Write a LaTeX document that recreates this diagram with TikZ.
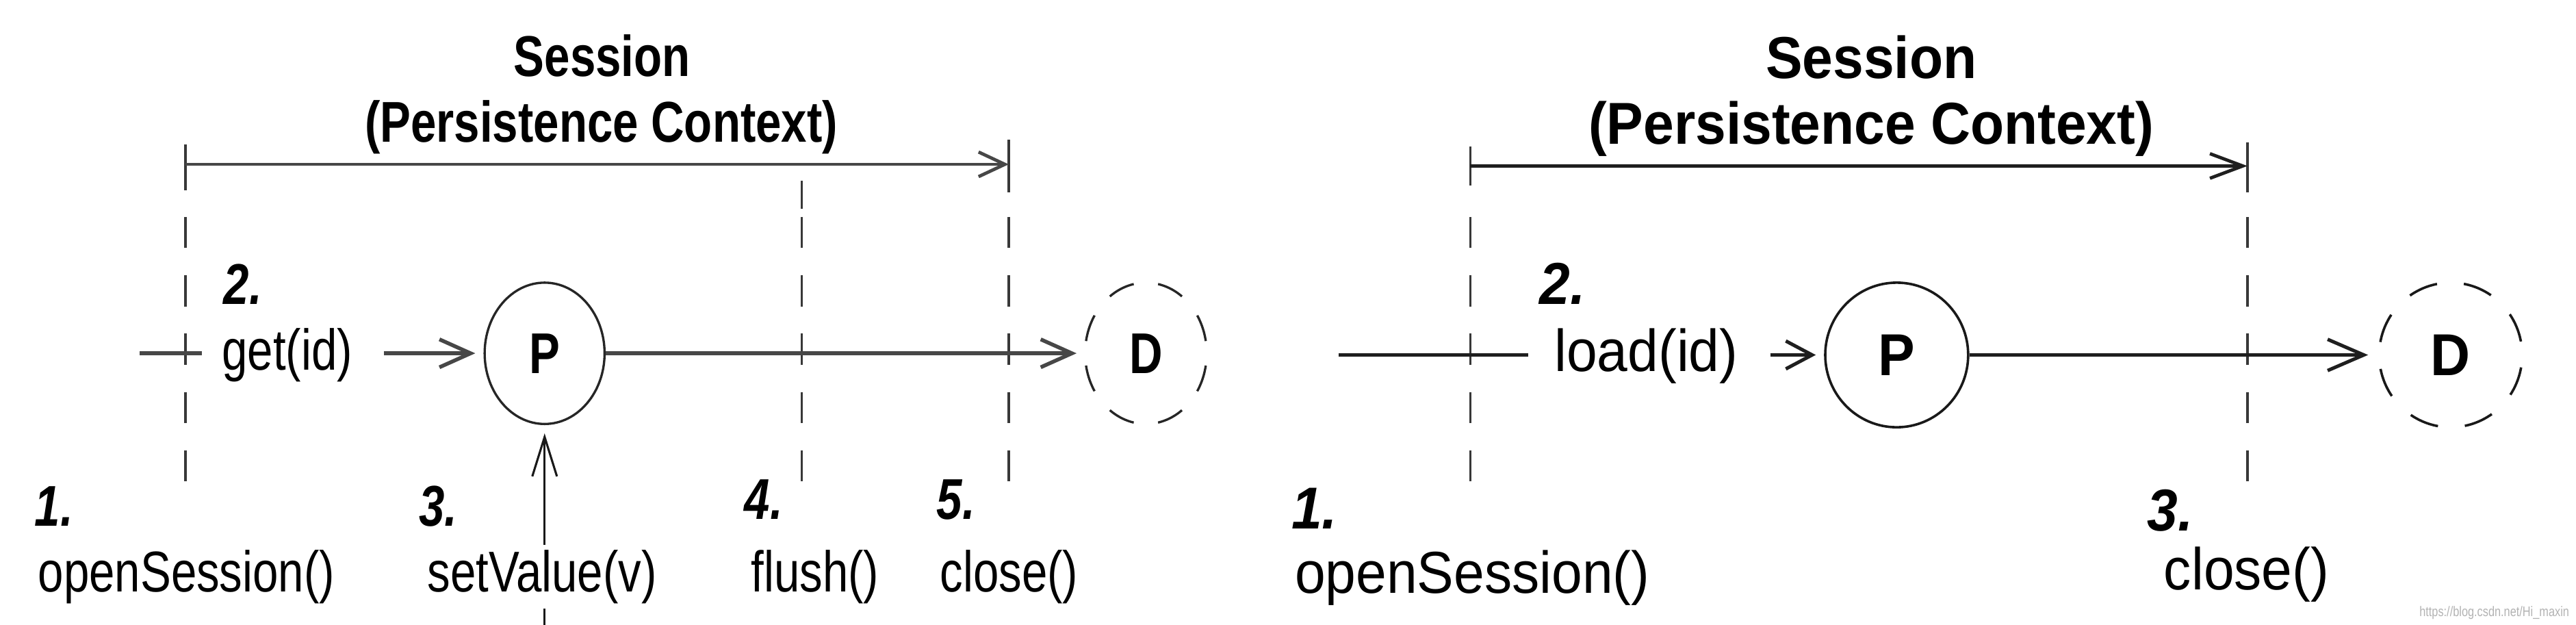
\documentclass[tikz,border=0pt]{standalone}
\usepackage{fontspec}
\setmainfont{Liberation Sans}
\newfontfamily\lfont{Liberation Sans}[FakeStretch=0.8]
\newfontfamily\rfont{Liberation Sans}[FakeStretch=0.93]
\usetikzlibrary{arrows.meta,shapes.geometric}
\begin{document}
\begin{tikzpicture}[x=1pt,y=-1pt,
  ltxt/.style={font=\lfont\fontsize{35}{40}\selectfont, inner sep=0pt, anchor=base west},
  lnum/.style={font=\lfont\fontsize{35}{40}\selectfont\bfseries\itshape, inner sep=0pt, anchor=base west},
  ltitle/.style={font=\lfont\fontsize{35}{40}\selectfont\bfseries, inner sep=0pt, anchor=base},
  rtxt/.style={font=\rfont\fontsize{36}{41}\selectfont, inner sep=0pt, anchor=base west},
  rnum/.style={font=\rfont\fontsize{36}{41}\selectfont\bfseries\itshape, inner sep=0pt, anchor=base west},
  rtitle/.style={font=\rfont\fontsize{36}{41}\selectfont\bfseries, inner sep=0pt, anchor=base},
  lline/.style={draw=black!72, line width=2.3pt},
  rline/.style={draw=black!88, line width=2.1pt},
  ltip/.style={-{Straight Barb[length=19pt,width=17pt]}},
  rtip/.style={-{Straight Barb[length=22pt,width=19pt]}},
  ltoptip/.style={-{Straight Barb[length=16pt,width=15pt]}},
  rtoptip/.style={-{Straight Barb[length=20pt,width=15pt]}},
  vdash/.style={draw=black!78, line width=1.6pt, dash pattern=on 19pt off 16.5pt},
  vtick/.style={draw=black!78, line width=1.6pt},
  lobj/.style={ellipse, draw=black!85, line width=1.4pt, minimum width=73pt, minimum height=86pt, inner sep=0pt, font=\lfont\fontsize{35}{40}\selectfont\bfseries},
  robj/.style={ellipse, draw=black!90, line width=1.5pt, minimum width=87pt, minimum height=88pt, inner sep=0pt, font=\rfont\fontsize{36}{41}\selectfont\bfseries},
  ldashobj/.style={lobj, minimum width=74pt, dash pattern=on 16.5pt off 14.96pt, dash phase=23.98pt},
  rdashobj/.style={robj, dash pattern=on 18pt off 16.44pt, dash phase=26.22pt}
]
\useasboundingbox (0,0) rectangle (1568,380.3);

% ---------------- left panel ----------------
\node[ltitle] (ls) at (366.5,46.5) {Session};
\node[ltitle] (lpc) at (366,86.5) {(Persistence Context)};

% vertical markers
\draw[vtick] (113,88) -- (113,116);
\draw[vdash] (113,132) -- (113,293);
\draw[vtick] (488,110) -- (488,127);
\draw[vdash] (488,132) -- (488,293);
\draw[vtick] (614,85) -- (614,117);
\draw[vdash] (614,132) -- (614,293);

\coordinate (lt1) at (113,100);
\coordinate (lt2) at (614,100);
\draw[lline, line width=2pt, ltoptip] (lt1) -- (lt2);

\node[lobj] (lP) at (331.5,215) {P};
\node[ldashobj] (lD) at (697.5,215) {D};

\coordinate (la) at (85,215);
\coordinate (lb) at (123,215);
\coordinate (lc) at (233.6,215);
\draw[lline] (la) -- (lb);
\draw[lline, ltip, shorten >=5pt] (lc) -- (lP);
\draw[lline, ltip, shorten >=4.5pt] (lP) -- (lD);

\coordinate (lv) at (331.5,380.3);
\draw[draw=black!90, line width=1.3pt, -{Straight Barb[length=24pt,width=15pt]}, shorten >=5pt] (lv) -- (lP.south);

\node[lnum] (l2) at (136,185) {2.};
\node[ltxt] (lget) at (135,225) {get(id)};
\node[lnum] (l1) at (21,320) {1.};
\node[ltxt] (lopen) at (23,360) {openSession()};
\node[lnum] (l3) at (255,320) {3.};
\node[ltxt, anchor=base, fill=white, inner xsep=1pt, inner ysep=3pt] (lset) at (330,360) {setValue(v)};
\node[lnum] (l4) at (453,316) {4.};
\node[ltxt] (lflush) at (457,360) {flush()};
\node[lnum] (l5) at (570,316) {5.};
\node[ltxt] (lclose) at (572,360) {close()};

% ---------------- right panel ----------------
\node[rtitle] (rs) at (1139,47.5) {Session};
\node[rtitle] (rpc) at (1139,87.7) {(Persistence Context)};

\draw[vtick] (895,89) -- (895,113);
\draw[vdash] (895,132) -- (895,294);
\draw[vtick] (1368,86.5) -- (1368,117);
\draw[vdash] (1368,132) -- (1368,294);

\coordinate (rt1) at (895,101);
\coordinate (rt2) at (1368,101);
\draw[rline, line width=2pt, rtoptip] (rt1) -- (rt2);

\node[robj] (rP) at (1154.5,216) {P};
\node[rdashobj] (rD) at (1491.7,216) {D};

\coordinate (ra) at (815,216);
\coordinate (rb) at (930,216);
\coordinate (rc) at (1077.5,216);
\draw[rline] (ra) -- (rb);
\draw[rline, -{Straight Barb[length=16pt,width=17pt]}, shorten >=5pt] (rc) -- (rP);
\draw[rline, rtip, shorten >=6pt] (rP) -- (rD);

\node[rnum] (r2) at (937,185) {2.};
\node[rtxt] (rload) at (946,226) {load(id)};
\node[rnum] (r1) at (786,322) {1.};
\node[rtxt] (ropen) at (788,361) {openSession()};
\node[rnum] (r3) at (1307,323) {3.};
\node[rtxt] (rclose) at (1317,359) {close()};

\node[font=\lfont\fontsize{8.5}{9}\selectfont, text=black!30, inner sep=0pt, anchor=base east] (wm) at (1564,375) {https://blog.csdn.net/Hi\_maxin};
\end{tikzpicture}
\end{document}
